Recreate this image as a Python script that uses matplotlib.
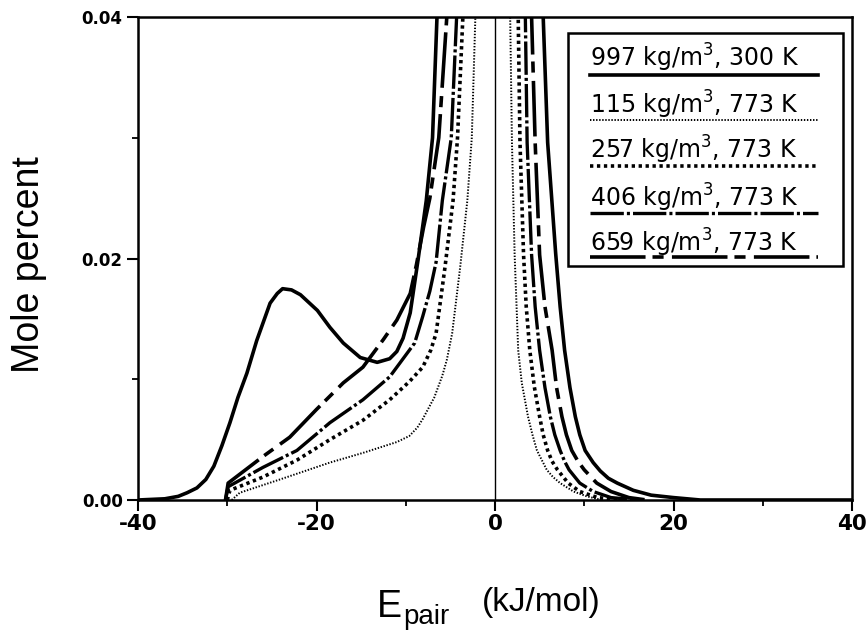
import numpy as np
import matplotlib
matplotlib.use('Agg')
import matplotlib.pyplot as plt
from matplotlib.patches import Rectangle

plt.rcParams['font.family'] = 'DejaVu Sans'
plt.rcParams['mathtext.fontset'] = 'dejavusans'
plt.rcParams['lines.scale_dashes'] = False

# pair energy distributions, left (attractive) and right (repulsive) branches
labels = ['997 kg/m$^3$, 300 K', '115 kg/m$^3$, 773 K', '257 kg/m$^3$, 773 K',
          '406 kg/m$^3$, 773 K', '659 kg/m$^3$, 773 K']

d997_lx = [-40, -37, -35.5, -34.5, -33.4, -32.4, -31.5, -30.6, -29.7, -28.8, -27.8, -26.7, -25.2,
           -24.4, -23.8, -22.8, -21.8, -19.9, -18.5, -17.0, -15.1, -13.2, -11.8, -11.0, -10.3,
           -9.5, -8.6, -7.7, -7.0, -6.5, -6.3]
d997_ly = [0, 0.0001, 0.0003, 0.0006, 0.0010, 0.0017, 0.0028, 0.0045, 0.0064, 0.0085, 0.0105, 0.0132,
           0.0163, 0.0171, 0.0175, 0.0174, 0.0170, 0.0157, 0.0143, 0.0130, 0.0118, 0.0114, 0.0117,
           0.0123, 0.0134, 0.0155, 0.0200, 0.0248, 0.0300, 0.0400, 0.0450]
d997_rx = [5.2, 5.4, 5.9, 6.8, 7.3, 7.8, 8.4, 9.0, 9.5, 10.1, 11.0, 11.8, 12.7, 13.7, 15.5, 17.5, 20, 23, 40]
d997_ry = [0.045, 0.040, 0.0296, 0.0204, 0.0160, 0.0124, 0.0093, 0.0069, 0.0054, 0.0041, 0.0031,
           0.0024, 0.0018, 0.0014, 0.0008, 0.0004, 0.0002, 0, 0]

d115_lx = [-29.5, -28.6, -24.1, -18.5, -14.8, -11.0, -9.6, -8.7, -8.1, -6.8, -5.9, -5.4, -4.8, -3.9,
           -3.1, -2.6, -2.2, -2.0]
d115_ly = [0, 0.0006, 0.0017, 0.0031, 0.0039, 0.0048, 0.0053, 0.0060, 0.0067, 0.0085, 0.0103, 0.0116,
           0.0138, 0.0193, 0.0248, 0.0300, 0.0400, 0.045]
d115_rx = [1.5, 1.7, 1.9, 2.2, 2.6, 3.0, 3.7, 4.2, 4.7, 5.8, 6.5, 7.3, 8.8, 10.3, 12]
d115_ry = [0.045, 0.040, 0.0296, 0.0203, 0.0124, 0.0097, 0.0069, 0.0054, 0.0041, 0.0025, 0.0019,
           0.0014, 0.0007, 0.0003, 0]

d257_lx = [-30.0, -29.7, -26, -22.2, -18.5, -14.8, -11.8, -9.6, -8.1, -7.2, -6.6, -5.6, -4.7, -4.2,
           -3.6, -3.4]
d257_ly = [0, 0.0008, 0.0019, 0.0033, 0.0050, 0.0066, 0.0083, 0.0098, 0.0110, 0.0124, 0.0138, 0.0193,
           0.0248, 0.0300, 0.0400, 0.045]
d257_rx = [2.4, 2.6, 2.8, 3.2, 3.5, 3.9, 4.4, 5.0, 5.4, 5.9, 6.4, 7.0, 8.2, 9.5, 11.5, 14]
d257_ry = [0.045, 0.040, 0.0296, 0.0203, 0.0160, 0.0124, 0.0094, 0.0069, 0.0054, 0.0041, 0.0032,
           0.0025, 0.0014, 0.0007, 0.0002, 0]

d406_lx = [-30.2, -29.9, -26, -22.2, -18.5, -14.8, -11.8, -10.4, -9.0, -8.1, -7.3, -6.6, -5.9, -4.9,
           -4.3, -4.1]
d406_ly = [0, 0.0011, 0.0027, 0.0041, 0.0064, 0.0083, 0.0102, 0.0116, 0.0130, 0.0152, 0.0173, 0.0197,
           0.0248, 0.0300, 0.0400, 0.045]
d406_rx = [3.2, 3.4, 3.6, 4.1, 4.5, 5.0, 5.6, 6.2, 6.7, 7.3, 7.8, 8.3, 9.5, 11, 13, 16]
d406_ry = [0.045, 0.040, 0.0296, 0.0203, 0.0160, 0.0124, 0.0093, 0.0069, 0.0054, 0.0041, 0.0032,
           0.0025, 0.0014, 0.0007, 0.0002, 0]

d659_lx = [-30.2, -29.9, -26, -23, -20, -17, -14.8, -12.5, -11.0, -9.5, -8.8, -8.0, -7.3, -6.3, -5.4, -5.2]
d659_ly = [0, 0.0014, 0.0036, 0.0052, 0.0075, 0.0097, 0.0110, 0.0133, 0.0149, 0.0171, 0.0195, 0.0226,
           0.0250, 0.0300, 0.0400, 0.045]
d659_rx = [3.9, 4.1, 4.5, 5.0, 5.6, 6.4, 6.9, 7.5, 8.0, 8.6, 9.3, 10.0, 11.4, 13, 15, 17]
d659_ry = [0.045, 0.040, 0.0296, 0.0203, 0.0160, 0.0124, 0.0093, 0.0069, 0.0054, 0.0041, 0.0032,
           0.0025, 0.0014, 0.0007, 0.0002, 0]

series = [
    (d997_lx, d997_ly, d997_rx, d997_ry, dict(ls='-', lw=2.6)),
    (d115_lx, d115_ly, d115_rx, d115_ry, dict(ls=(0, (1.0, 1.2)), lw=1.4)),
    (d257_lx, d257_ly, d257_rx, d257_ry, dict(ls=(0, (2.4, 2.6)), lw=2.6)),
    (d406_lx, d406_ly, d406_rx, d406_ry, dict(ls=(0, (24, 2.2, 2.2, 2.2)), lw=2.4)),
    (d659_lx, d659_ly, d659_rx, d659_ry, dict(ls=(0, (40, 5, 8, 6)), lw=2.6)),
]

fig = plt.figure(figsize=(8.68, 6.32), dpi=100)
ax = fig.add_axes([138/868, 1 - 500/632, 714/868, 483/632])

for lx, ly, rx, ry, st in series:
    x = np.concatenate([lx, [np.nan], rx])
    y = np.concatenate([ly, [np.nan], ry])
    ax.plot(x, y, color='black', solid_joinstyle='round', **st)

ax.axvline(0, color='black', lw=1.0)

ax.set_xlim(-40, 40)
ax.set_ylim(0, 0.04)
ax.set_xticks([-40, -20, 0, 20, 40], ['-40', '-20', '0', '20', '40'], fontsize=15.5, fontweight='bold')
ax.set_xticks([-30, -10, 10, 30], minor=True)
ax.set_yticks([0, 0.02, 0.04], ['0.00', '0.02', '0.04'], fontsize=12, fontweight='bold')
ax.set_yticks([0.01, 0.03], minor=True)
ax.tick_params(which='major', direction='out', length=8, width=1.5)
ax.tick_params(which='minor', direction='out', length=4.5, width=1.3)
ax.tick_params(axis='x', pad=2)
ax.tick_params(axis='y', pad=3)
for s in ax.spines.values():
    s.set_linewidth(1.8)

ax.set_ylabel('Mole percent', fontsize=27, family='Liberation Sans')
ax.yaxis.set_label_coords(-0.127, 0.487)

# axis title with subscript and smaller unit
fig.text(377/868, 1 - 617/632, 'E', fontsize=27, family='Liberation Sans', va='baseline')
fig.text(403/868, 1 - 624/632, 'pair', fontsize=20, family='Liberation Sans', va='baseline')
fig.text(482/868, 1 - 611/632, '(kJ/mol)', fontsize=24, family='Liberation Sans', va='baseline')

# legend: each label underlined with its line style
ax.add_patch(Rectangle((0.602, 0.4845), 0.385, 0.4825, transform=ax.transAxes,
                       facecolor='white', edgecolor='black', lw=1.8, zorder=5))
text_y = [0.8965, 0.801, 0.706, 0.6066, 0.5135]
line_y = [0.880, 0.787, 0.6915, 0.594, 0.503]
for (lx, ly, rx, ry, st), lab, ty, ly2 in zip(series, labels, text_y, line_y):
    ax.text(0.633, ty, lab, transform=ax.transAxes, fontsize=17, va='baseline', zorder=6)
    ax.plot([0.633, 0.952], [ly2, ly2], transform=ax.transAxes, color='black',
            zorder=6, clip_on=False, **st)

fig.savefig('out.png', dpi=100)
